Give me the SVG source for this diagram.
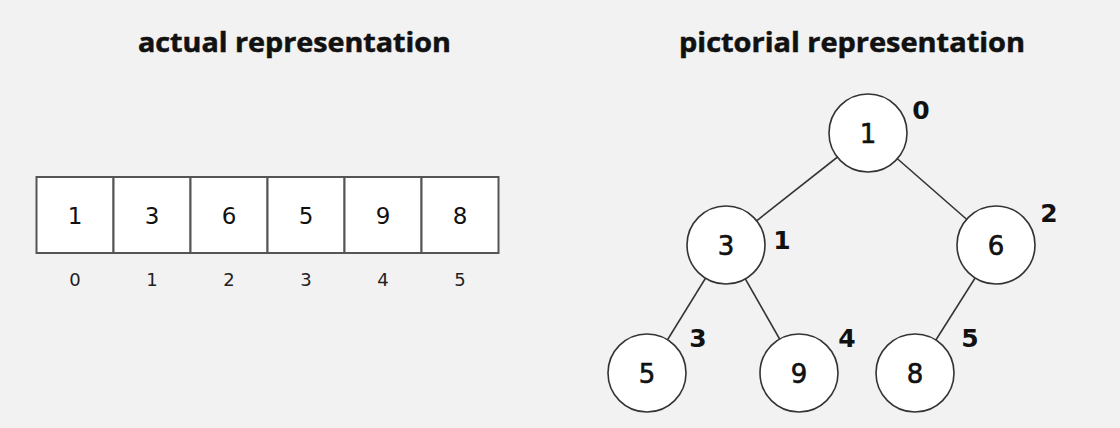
<svg xmlns="http://www.w3.org/2000/svg" width="1120" height="428" viewBox="0 0 1120 428">
<style>
.title{font-family:"Open Sans","DejaVu Sans",sans-serif;font-weight:700;font-size:26px;fill:#111;stroke:#111;stroke-width:0.5;}
.cell{fill:#fff;stroke:#555;stroke-width:2;}
.val{font-family:"DejaVu Sans",sans-serif;font-size:23px;fill:#111;text-anchor:middle;dominant-baseline:central;}
.idx{font-family:"DejaVu Sans",sans-serif;font-size:18px;fill:#222;text-anchor:middle;dominant-baseline:central;}
.node{fill:#fff;stroke:#333;stroke-width:1.6;}
.nval{font-family:"DejaVu Sans",sans-serif;font-size:26px;fill:#111;text-anchor:middle;dominant-baseline:central;stroke:#111;stroke-width:0.6;}
.nidx{font-family:"DejaVu Sans",sans-serif;font-weight:700;font-size:25px;fill:#111;text-anchor:middle;dominant-baseline:central;}
.edge{stroke:#333;stroke-width:1.6;}
</style>
<rect width="1120" height="428" fill="#f2f2f2"/>
<text class="title" x="138" y="52" textLength="313" lengthAdjust="spacingAndGlyphs">actual representation</text>
<text class="title" x="679" y="52" textLength="346" lengthAdjust="spacingAndGlyphs">pictorial representation</text>
<g id="array">
<rect class="cell" x="36.5" y="177" width="77" height="76"/>
<rect class="cell" x="113.5" y="177" width="77" height="76"/>
<rect class="cell" x="190.5" y="177" width="77" height="76"/>
<rect class="cell" x="267.5" y="177" width="77" height="76"/>
<rect class="cell" x="344.5" y="177" width="77" height="76"/>
<rect class="cell" x="421.5" y="177" width="77" height="76"/>
<text class="val" x="75" y="216">1</text>
<text class="val" x="152" y="216">3</text>
<text class="val" x="229" y="216">6</text>
<text class="val" x="306" y="216">5</text>
<text class="val" x="383" y="216">9</text>
<text class="val" x="460" y="216">8</text>
<text class="idx" x="75" y="279">0</text>
<text class="idx" x="152" y="279">1</text>
<text class="idx" x="229" y="279">2</text>
<text class="idx" x="306" y="279">3</text>
<text class="idx" x="383" y="279">4</text>
<text class="idx" x="460" y="279">5</text>
</g>
<g id="connectors">
<line class="edge" x1="868" y1="133" x2="726" y2="245"/>
<line class="edge" x1="868" y1="133" x2="996" y2="245"/>
<line class="edge" x1="726" y1="245" x2="647" y2="373"/>
<line class="edge" x1="726" y1="245" x2="799" y2="373"/>
<line class="edge" x1="996" y1="245" x2="915" y2="373"/>
</g>
<g id="n0"><circle class="node" cx="868" cy="133" r="39"/><text class="nval" x="868" y="134">1</text><text class="nidx" x="921" y="110">0</text></g>
<g id="n1"><circle class="node" cx="726" cy="245" r="39"/><text class="nval" x="726" y="246">3</text><text class="nidx" x="782" y="240">1</text></g>
<g id="n2"><circle class="node" cx="996" cy="245" r="39"/><text class="nval" x="996" y="246">6</text><text class="nidx" x="1049" y="213">2</text></g>
<g id="n3"><circle class="node" cx="647" cy="373" r="39"/><text class="nval" x="647" y="374">5</text><text class="nidx" x="698" y="338">3</text></g>
<g id="n4"><circle class="node" cx="799" cy="373" r="39"/><text class="nval" x="799" y="374">9</text><text class="nidx" x="847" y="338">4</text></g>
<g id="n5"><circle class="node" cx="915" cy="373" r="39"/><text class="nval" x="915" y="374">8</text><text class="nidx" x="970" y="338">5</text></g>
</svg>
